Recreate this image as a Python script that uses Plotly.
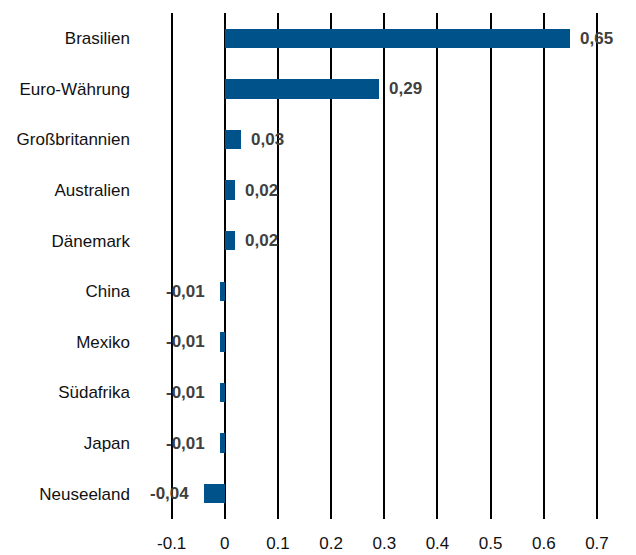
import plotly.graph_objects as go

categories = ["Brasilien", "Euro-Währung", "Großbritannien", "Australien", "Dänemark",
              "China", "Mexiko", "Südafrika", "Japan", "Neuseeland"]
values = [0.65, 0.29, 0.03, 0.02, 0.02, -0.01, -0.01, -0.01, -0.01, -0.04]
labels = ["0,65", "0,29", "0,03", "0,02", "0,02", "-0,01", "-0,01", "-0,01", "-0,01", "-0,04"]
tick_vals = [-0.1, 0, 0.1, 0.2, 0.3, 0.4, 0.5, 0.6, 0.7]
tick_text = ["-0.1", "0", "0.1", "0.2", "0.3", "0.4", "0.5", "0.6", "0.7"]

FONT = "Liberation Sans Narrow, Arial Narrow, Liberation Sans, Arial"

fig = go.Figure()
fig.add_trace(go.Bar(
    x=values, y=categories, orientation="h",
    marker=dict(color="#00538A", line=dict(width=0)),
    width=0.38,
))

for c, v, t in zip(categories, values, labels):
    fig.add_annotation(
        x=v, y=c, text=t, showarrow=False,
        xanchor="left" if v >= 0 else "right",
        xshift=8 if v >= 0 else -13,
        font=dict(family=FONT, size=17, color="#404040", weight="bold"),
    )

# page body has an 8px margin, so the figure is sized/offset to compensate
fig.update_layout(
    width=628, height=547,
    margin=dict(l=161, r=38, t=5, b=36),
    paper_bgcolor="white", plot_bgcolor="white",
    showlegend=False,
    bargap=0,
    font=dict(family=FONT, size=17, color="#111111"),
)
fig.update_xaxes(
    range=[-0.105, 0.702], tickvals=tick_vals, ticktext=tick_text,
    showgrid=True, gridcolor="black", gridwidth=2,
    zeroline=True, zerolinecolor="black", zerolinewidth=2,
    showline=False, ticks="", ticklabelstandoff=12,
    tickfont=dict(size=17), automargin=False,
)
fig.update_yaxes(
    autorange="reversed", showgrid=False, zeroline=False, showline=False,
    ticks="", ticklabelstandoff=38, tickfont=dict(size=17), automargin=False,
)

fig.write_html("out.html")
